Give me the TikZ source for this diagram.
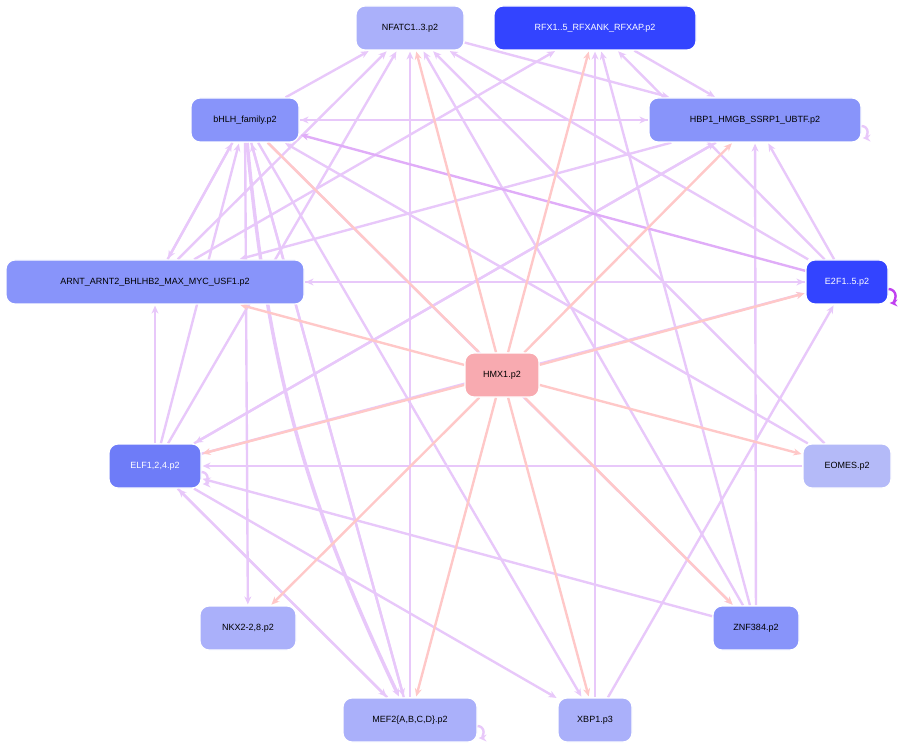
\documentclass[tikz,border=0pt]{standalone}
\usepackage{fontspec}
\setmainfont{Liberation Sans}
\usetikzlibrary{arrows.meta}
\usetikzlibrary{backgrounds}
\definecolor{tfa}{HTML}{AAB0FA}
\definecolor{tfb}{HTML}{8894FA}
\definecolor{tfc}{HTML}{6E7CF8}
\definecolor{tfd}{HTML}{3344FF}
\definecolor{tfe}{HTML}{B4BAF8}
\definecolor{hmx}{HTML}{F8AAB0}
\definecolor{lilac}{HTML}{E8C8FA}
\definecolor{rose}{HTML}{FFC8C8}
\definecolor{violet}{HTML}{C040F0}
\tikzset{
  tf/.style={draw=white, line width=1.2pt, rounded corners=9pt, minimum height=44pt, font=\fontsize{9}{10}\selectfont, inner sep=5pt},
  edge/.style={draw=lilac, line width=2.4pt, -{Stealth[length=8pt,width=7pt]}, shorten >=1pt},
  hedge/.style={edge, draw=rose}
}
\begin{document}
\begin{tikzpicture}[x=1pt, y=-1pt]
            \useasboundingbox (0,0) rectangle (921,751);

            \node[tf, fill=tfa, minimum width=108pt] (nfatc) at (410,28) {NFATC1..3.p2};
            \node[tf, fill=tfd, text=white, minimum width=202pt] (rfx) at (595,28) {RFX1..5\_RFXANK\_RFXAP.p2};
            \node[tf, fill=tfb, minimum width=108pt] (bhlh) at (245,120) {bHLH\_family.p2};
            \node[tf, fill=tfb, minimum width=212pt] (hbp) at (755,120) {HBP1\_HMGB\_SSRP1\_UBTF.p2};
            \node[tf, fill=tfb, minimum width=298pt] (arnt) at (155,282) {ARNT\_ARNT2\_BHLHB2\_MAX\_MYC\_USF1.p2};
            \node[tf, fill=tfd, text=white, minimum width=82pt] (e2f) at (847,282) {E2F1..5.p2};
            \node[tf, fill=hmx, minimum width=74pt] (hmx) at (502,375) {HMX1.p2};
            \node[tf, fill=tfc, text=white, minimum width=92pt] (elf) at (155,466) {ELF1,2,4.p2};
            \node[tf, fill=tfe, minimum width=88pt] (eomes) at (847,466) {EOMES.p2};
            \node[tf, fill=tfa, minimum width=96pt] (nkx) at (248,628) {NKX2-2,8.p2};
            \node[tf, fill=tfb, minimum width=86pt] (znf) at (756,628) {ZNF384.p2};
            \node[tf, fill=tfa, minimum width=134pt] (mef) at (410,720) {MEF2\{A,B,C,D\}.p2};
            \node[tf, fill=tfa, minimum width=74pt] (xbp) at (595,720) {XBP1.p3};

            \begin{scope}[on background layer]
            % purple edges
            \foreach \s/\t in {elf/nfatc, elf/bhlh, elf/hbp, elf/e2f, elf/arnt, elf/mef, elf/xbp,
                               eomes/elf, eomes/bhlh, eomes/nfatc,
                               znf/elf, znf/rfx, znf/hbp, znf/nfatc,
                               e2f/hbp, e2f/arnt, e2f/nfatc, e2f/rfx,
                               xbp/e2f, xbp/rfx,
                               mef/nfatc, mef/bhlh, mef/elf,
                               bhlh/mef, bhlh/hbp, bhlh/nfatc, bhlh/arnt, bhlh/nkx, bhlh/xbp, bhlh/znf,
                               arnt/bhlh, arnt/nfatc, arnt/e2f,
                               nfatc/hbp, rfx/hbp, hbp/arnt, hbp/bhlh, hbp/elf, arnt/rfx} {
                \draw[edge] (\s) -- (\t);
            }
            \draw[edge, draw=lilac!80!violet] (e2f) -- (bhlh);
            \draw[edge, line width=3.5pt] (bhlh) to[bend right=10] (mef);

            % pink edges
            \foreach \t in {nfatc, rfx, hbp, arnt, e2f, elf, eomes, nkx, znf, mef, xbp} {
                \draw[hedge] (hmx) -- (\t);
            }
            \draw[hedge, -] (bhlh) -- (hmx);
            \end{scope}

            % self loops
            \draw[edge, draw=violet] ([yshift=-7pt]e2f.east) arc[start angle=90, end angle=-90, radius=7pt];
            \draw[edge] ([yshift=-6pt]hbp.east) arc[start angle=90, end angle=-90, radius=6pt];
            \draw[edge] ([yshift=-6pt]elf.east) arc[start angle=90, end angle=-90, radius=6pt];
            \draw[edge] ([yshift=-6pt]mef.east) arc[start angle=90, end angle=-90, radius=6pt];
        \end{tikzpicture}
\end{document}
